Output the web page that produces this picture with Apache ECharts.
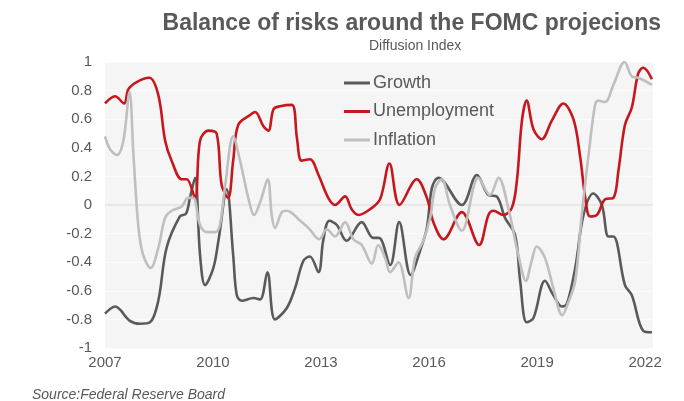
<!DOCTYPE html>
<html>
<head>
<meta charset="utf-8">
<script src="https://cdn.jsdelivr.net/npm/echarts@6/dist/echarts.min.js"></script>
<style>
  html, body { margin: 0; padding: 0; background: #ffffff; }
  #chart { width: 684px; height: 401px; }
</style>
</head>
<body>
<div id="chart"></div>
<script>
// Balance of risks around the FOMC projections (diffusion index, -1 .. 1)
// Dates are decimal years; each series keeps its own dates and values.

const growthDates = [2007.00, 2007.28, 2007.69, 2007.97, 2008.25, 2008.48, 2008.71, 2009.08, 2009.25, 2009.36, 2009.50, 2009.64, 2009.78, 2010.01, 2010.15, 2010.38, 2010.56, 2010.66, 2010.80, 2011.12, 2011.31, 2011.51, 2011.72, 2012.05, 2012.28, 2012.51, 2012.69, 2012.93, 2013.06, 2013.23, 2013.44, 2013.71, 2014.13, 2014.45, 2014.61, 2014.92, 2015.17, 2015.49, 2015.75, 2015.94, 2016.08, 2016.26, 2016.91, 2017.33, 2017.65, 2017.88, 2018.11, 2018.39, 2018.53, 2018.71, 2018.90, 2019.22, 2019.45, 2019.69, 2019.83, 2020.06, 2020.29, 2020.56, 2020.80, 2020.98, 2021.12, 2021.44, 2021.63, 2021.95, 2022.19];
const growthValues = [-0.76, -0.71, -0.81, -0.83, -0.82, -0.67, -0.30, -0.08, -0.06, 0.05, 0.19, -0.35, -0.56, -0.44, -0.25, 0.11, -0.35, -0.63, -0.67, -0.65, -0.66, -0.47, -0.80, -0.72, -0.58, -0.39, -0.36, -0.47, -0.25, -0.11, -0.14, -0.25, -0.12, -0.23, -0.23, -0.42, -0.12, -0.49, -0.32, -0.16, 0.12, 0.19, 0.00, 0.21, 0.07, 0.06, -0.09, -0.21, -0.53, -0.82, -0.79, -0.53, -0.63, -0.71, -0.69, -0.44, -0.07, 0.08, 0.00, -0.22, -0.22, -0.56, -0.63, -0.88, -0.89];

const unemploymentDates = [2007.00, 2007.28, 2007.53, 2007.65, 2007.88, 2008.23, 2008.48, 2008.67, 2008.85, 2009.13, 2009.27, 2009.50, 2009.64, 2009.87, 2010.10, 2010.24, 2010.42, 2010.56, 2010.70, 2011.03, 2011.17, 2011.40, 2011.54, 2011.68, 2011.86, 2012.19, 2012.33, 2012.46, 2012.69, 2012.93, 2013.20, 2013.39, 2013.67, 2013.85, 2014.04, 2014.36, 2014.64, 2014.90, 2015.18, 2015.66, 2015.94, 2016.12, 2016.40, 2016.91, 2017.39, 2017.65, 2017.79, 2018.06, 2018.30, 2018.44, 2018.58, 2018.71, 2018.90, 2019.13, 2019.41, 2019.73, 2020.01, 2020.19, 2020.35, 2020.47, 2020.66, 2020.89, 2021.12, 2021.26, 2021.44, 2021.63, 2021.81, 2021.95, 2022.19];
const unemploymentValues = [0.71, 0.76, 0.71, 0.81, 0.86, 0.89, 0.77, 0.45, 0.31, 0.18, 0.18, 0.05, 0.45, 0.52, 0.50, 0.14, 0.05, 0.31, 0.56, 0.63, 0.65, 0.55, 0.52, 0.67, 0.69, 0.70, 0.47, 0.31, 0.32, 0.21, 0.05, 0.00, 0.06, -0.03, -0.07, -0.03, 0.04, 0.29, 0.00, 0.18, 0.05, -0.12, -0.24, -0.05, -0.28, -0.07, -0.04, -0.07, -0.02, 0.17, 0.59, 0.73, 0.53, 0.46, 0.59, 0.71, 0.60, 0.35, 0.03, -0.08, -0.07, 0.04, 0.05, 0.24, 0.56, 0.68, 0.92, 0.96, 0.88];

const inflationDates = [2007.00, 2007.14, 2007.33, 2007.51, 2007.68, 2007.79, 2007.93, 2008.06, 2008.27, 2008.48, 2008.67, 2008.85, 2009.13, 2009.31, 2009.45, 2009.64, 2009.83, 2010.06, 2010.19, 2010.33, 2010.56, 2010.75, 2010.98, 2011.14, 2011.31, 2011.52, 2011.63, 2011.72, 2011.91, 2012.05, 2012.42, 2012.65, 2012.95, 2013.16, 2013.39, 2013.67, 2013.90, 2014.13, 2014.41, 2014.59, 2014.78, 2014.92, 2015.15, 2015.43, 2015.61, 2015.84, 2016.03, 2016.17, 2016.35, 2016.58, 2016.91, 2017.37, 2017.69, 2017.93, 2018.20, 2018.48, 2018.69, 2018.85, 2018.99, 2019.22, 2019.45, 2019.70, 2019.87, 2020.06, 2020.24, 2020.43, 2020.61, 2020.70, 2020.89, 2021.12, 2021.43, 2021.63, 2021.81, 2022.19];
const inflationValues = [0.48, 0.39, 0.35, 0.45, 0.79, 0.35, -0.16, -0.35, -0.44, -0.30, -0.09, -0.04, -0.01, 0.05, 0.05, -0.14, -0.19, -0.19, -0.14, 0.12, 0.48, 0.31, 0.05, -0.07, 0.02, 0.18, -0.07, -0.16, -0.05, -0.04, -0.11, -0.16, -0.24, -0.17, -0.22, -0.12, -0.24, -0.28, -0.41, -0.28, -0.37, -0.47, -0.40, -0.65, -0.37, -0.25, -0.09, 0.12, 0.18, 0.00, -0.18, 0.19, 0.07, 0.19, -0.02, -0.35, -0.53, -0.39, -0.29, -0.37, -0.58, -0.77, -0.68, -0.53, -0.07, 0.35, 0.70, 0.73, 0.72, 0.84, 1.00, 0.90, 0.89, 0.84];

const seriesNames = ['Growth', 'Unemployment', 'Inflation'];
const seriesColors = ['#5a5a5a', '#c8161d', '#bfbfbf'];
const yearTicks = [2007, 2010, 2013, 2016, 2019, 2022];

const TEXT = '#595959';
const FONT = 'Liberation Sans, Arial, sans-serif';

function pairs(dates, values) {
  return dates.map((d, i) => [d, values[i]]);
}

const seriesData = [
  pairs(growthDates, growthValues),
  pairs(unemploymentDates, unemploymentValues),
  pairs(inflationDates, inflationValues)
];

const chart = echarts.init(document.getElementById('chart'), null, { renderer: 'canvas' });

const series = seriesNames.map((name, i) => ({
  name: name,
  type: 'line',
  data: seriesData[i],
  smooth: 0.35,
  symbol: 'none',
  showSymbol: false,
  z: 3 + i,
  lineStyle: { color: seriesColors[i], width: 2.6 },
  itemStyle: { color: seriesColors[i] }
}));

// zero reference line
series[0].markLine = {
  silent: true,
  symbol: 'none',
  label: { show: false },
  lineStyle: { color: '#e2e2e2', width: 1.5, type: 'solid' },
  data: [{ yAxis: 0 }],
  z: 1
};

chart.setOption({
  animation: false,
  backgroundColor: '#ffffff',
  textStyle: { fontFamily: FONT },
  grid: {
    left: 105, right: 31, top: 62, bottom: 53,
    show: true, backgroundColor: '#f5f5f5', borderWidth: 0
  },
  graphic: [
    {
      type: 'text', right: 23, top: 12,
      style: { text: 'Balance of risks around the FOMC projecions', font: 'bold 23px ' + FONT, fill: TEXT }
    },
    {
      type: 'text', left: 369, top: 39,
      style: { text: 'Diffusion Index', font: '14px ' + FONT, fill: TEXT }
    },
    {
      type: 'text', left: 32, top: 388,
      style: { text: 'Source:Federal Reserve Board', font: 'italic 14px ' + FONT, fill: TEXT }
    }
  ],
  legend: {
    data: seriesNames,
    orient: 'vertical',
    left: 344, top: 74,
    padding: 0,
    icon: 'rect',
    itemWidth: 26, itemHeight: 3, itemGap: 10.5,
    textStyle: { color: TEXT, fontSize: 18, fontFamily: FONT, padding: [0, 0, 0, -2] },
    selectedMode: false
  },
  xAxis: {
    type: 'value',
    min: 2007, max: 2022.22, interval: 3,
    axisLine: { show: false },
    axisTick: { show: false },
    splitLine: { show: false },
    axisLabel: {
      color: TEXT, fontSize: 15, margin: 7, fontFamily: FONT,
      showMaxLabel: true,
      formatter: v => {
        const r = Math.round(v);
        return (Math.abs(v - r) < 1e-6 && yearTicks.includes(r)) ? String(r) : '';
      }
    }
  },
  yAxis: {
    type: 'value',
    min: -1, max: 1, interval: 0.2,
    axisLine: { show: false },
    axisTick: { show: false },
    splitLine: { show: true, lineStyle: { color: '#fbfbfb', width: 1 } },
    axisLabel: {
      color: TEXT, fontSize: 15, margin: 13, fontFamily: FONT,
      formatter: v => String(Math.round(v * 10) / 10)
    }
  },
  series: series
});
</script>
</body>
</html>
